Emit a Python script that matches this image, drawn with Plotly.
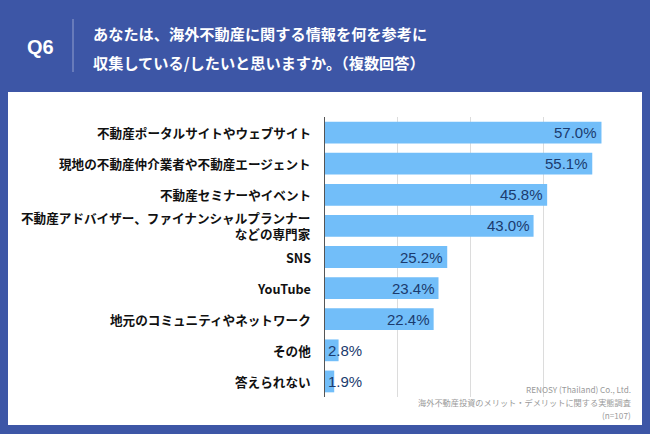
import plotly.graph_objects as go

categories = [
    "不動産ポータルサイトやウェブサイト",
    "現地の不動産仲介業者や不動産エージェント",
    "不動産セミナーやイベント",
    "不動産アドバイザー、ファイナンシャルプランナー<br>などの専門家",
    "SNS",
    "YouTube",
    "地元のコミュニティやネットワーク",
    "その他",
    "答えられない",
]
values = [57.0, 55.1, 45.8, 43.0, 25.2, 23.4, 22.4, 2.8, 1.9]
value_labels = ["57.0%", "55.1%", "45.8%", "43.0%", "25.2%", "23.4%", "22.4%", "2.8%", "1.9%"]
title_lines = ["あなたは、海外不動産に関する情報を何を参考に",
               "収集している/したいと思いますか。（複数回答）"]
source_lines = ["RENOSY (Thailand) Co., Ltd.",
                "海外不動産投資のメリット・デメリットに関する実態調査",
                "(n=107)"]

W, H = 650, 434
BLUE = "#3D56A6"
BAR = "#72BEF9"
NAVY = "#1B3B6E"
JP = "Noto Sans CJK JP"

def py(px):
    return 1 - px / H

def pxx(px):
    return px / W

fig = go.Figure()
fig.add_trace(go.Bar(
    x=values, y=categories, orientation="h",
    marker=dict(color=BAR, line=dict(width=0)),
    hoverinfo="skip",
))

annotations = []
for c, v, t in zip(categories, values, value_labels):
    if v >= 10:
        annotations.append(dict(x=v, y=c, xref="x", yref="y", text=t, showarrow=False,
                                xanchor="right", xshift=-2,
                                font=dict(family="Liberation Sans", size=15, color=NAVY)))
    else:
        annotations.append(dict(x=0, y=c, xref="x", yref="y", text=t, showarrow=False,
                                xanchor="left", xshift=1,
                                font=dict(family="Liberation Sans", size=15, color=NAVY)))

# category labels (right-aligned, next to the axis)
for c in categories:
    annotations.append(dict(x=0, y=c, xref="x", yref="y", text=c, showarrow=False,
                            xanchor="right", yanchor="middle", align="right", xshift=-12,
                            font=dict(family=JP, size=12.6, color="#111111", weight=700)))

# header
annotations.append(dict(x=pxx(40), y=py(47), xref="paper", yref="paper", text="Q6",
                        showarrow=False, xanchor="center", yanchor="middle",
                        font=dict(family="Liberation Sans", size=20, color="white", weight=700)))
for i, line in enumerate(title_lines):
    annotations.append(dict(x=pxx(91), y=py(33 + 29 * i), xref="paper", yref="paper", text=line,
                            showarrow=False, xanchor="left", yanchor="middle",
                            font=dict(family=JP, size=15.2, color="white", weight=700)))
for i, line in enumerate(source_lines):
    annotations.append(dict(x=pxx(633), y=py(389 + 13 * i), xref="paper", yref="paper", text=line,
                            showarrow=False, xanchor="right", yanchor="middle",
                            font=dict(family=JP, size=8.2, color="#9a9a9a")))

shapes = [
    dict(type="rect", xref="paper", yref="paper", x0=pxx(8), x1=pxx(642), y0=py(425), y1=py(92),
         fillcolor="white", line=dict(width=0), layer="below"),
    dict(type="line", xref="paper", yref="paper", x0=pxx(73), x1=pxx(73), y0=py(19), y1=py(72),
         line=dict(color="rgba(255,255,255,0.45)", width=1)),
]

fig.update_layout(
    width=W, height=H,
    margin=dict(l=0, r=0, t=0, b=0),
    paper_bgcolor=BLUE, plot_bgcolor="rgba(0,0,0,0)",
    showlegend=False, bargap=0.3,
    annotations=annotations, shapes=shapes,
    xaxis=dict(domain=[pxx(325), pxx(617)], range=[0, 60.2], dtick=15, tick0=0,
               showticklabels=False, showgrid=True, gridcolor="#dcdcdc", gridwidth=1,
               zeroline=False, showline=False, fixedrange=True),
    yaxis=dict(domain=[py(397), py(117)], autorange="reversed", showline=True,
               linecolor="#555555", linewidth=1, ticks="", showticklabels=False,
               fixedrange=True),
)

fig.write_html("out.html")
